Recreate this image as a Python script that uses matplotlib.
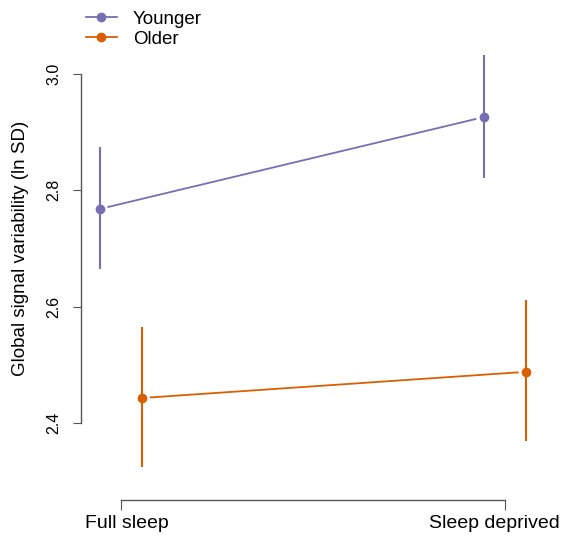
import numpy as np
import matplotlib.pyplot as plt

# Means and error bar limits
conditions = ["Full sleep", "Sleep deprived"]
groups = ["Younger", "Older"]
younger_mean = [2.768, 2.926]
younger_low = [2.665, 2.821]
younger_high = [2.875, 3.033]
older_mean = [2.443, 2.488]
older_low = [2.324, 2.369]
older_high = [2.565, 2.612]
y_ticks = [2.4, 2.6, 2.8, 3.0]

colors = {"Younger": "#7570B3", "Older": "#D95F02"}
offsets = {"Younger": -0.055, "Older": 0.055}
label_shift = [4, -8]  # points, horizontal nudge of the category labels

plt.rcParams['font.family'] = ['Liberation Sans', 'DejaVu Sans']

fig = plt.figure(figsize=(5.61, 5.41), dpi=100)
ax = fig.add_axes([81 / 561, 41 / 541, 464 / 561, 470 / 541])

x = np.arange(1, len(conditions) + 1)
series = {"Younger": (younger_mean, younger_low, younger_high),
          "Older": (older_mean, older_low, older_high)}

for g in groups:
    m, lo, hi = series[g]
    xs = x + offsets[g]
    c = colors[g]
    ax.vlines(xs, lo, hi, color=c, linewidth=1.5)
    # connecting line with small gaps at the points (like type="b")
    f = 0.022
    x0 = xs[0] + f * (xs[1] - xs[0])
    x1 = xs[1] - f * (xs[1] - xs[0])
    y0 = m[0] + f * (m[1] - m[0])
    y1 = m[1] - f * (m[1] - m[0])
    ax.plot([x0, x1], [y0, y1], color=c, linewidth=1.3)
    ax.plot(xs, m, 'o', color=c, markersize=6, linestyle='none')

ax.set_xlim(1 - 40 / 384, 1 + 424 / 384)
ax.set_ylim(3.0 - 426 * 0.6 / 349, 3.0 + 44 * 0.6 / 349)

for s in ['top', 'right']:
    ax.spines[s].set_visible(False)
ax.spines['left'].set_bounds(2.4, 3.0)
ax.spines['bottom'].set_bounds(1, 2)
for s in ['left', 'bottom']:
    ax.spines[s].set_color('#555555')
    ax.spines[s].set_linewidth(1.0)

ax.set_yticks(y_ticks)
ax.set_yticklabels([f"{v:.1f}" for v in y_ticks], rotation=90, va='center', fontsize=11.5)
ax.set_xticks(x)
ax.set_xticklabels([])
ax.tick_params(axis='y', length=5.8, color='#555555', pad=8.5)
ax.tick_params(axis='x', length=7.2, color='#555555')

# x category labels
for xi, lab, dx in zip(x, conditions, label_shift):
    ax.annotate(lab, xy=(xi, 0), xycoords=('data', 'axes fraction'),
                xytext=(dx, -20.2), textcoords='offset points',
                ha='center', va='baseline', fontsize=14)

ax.set_ylabel("Global signal variability (ln SD)", fontsize=13.5)
ax.yaxis.set_label_coords(-52 / 464, 0.5 * (2.4 + 3.0), transform=ax.get_yaxis_transform())

handles = [plt.Line2D([], [], color=colors[g], marker='o', markersize=6, linewidth=1.3)
           for g in groups]
fig.legend(handles, groups, loc='upper left', bbox_to_anchor=(78.5 / 561, 0.994),
           frameon=False, fontsize=13.5, handlelength=1.65, handletextpad=0.85,
           labelspacing=0.15, borderaxespad=0)

fig.savefig("out.png", dpi=100)
